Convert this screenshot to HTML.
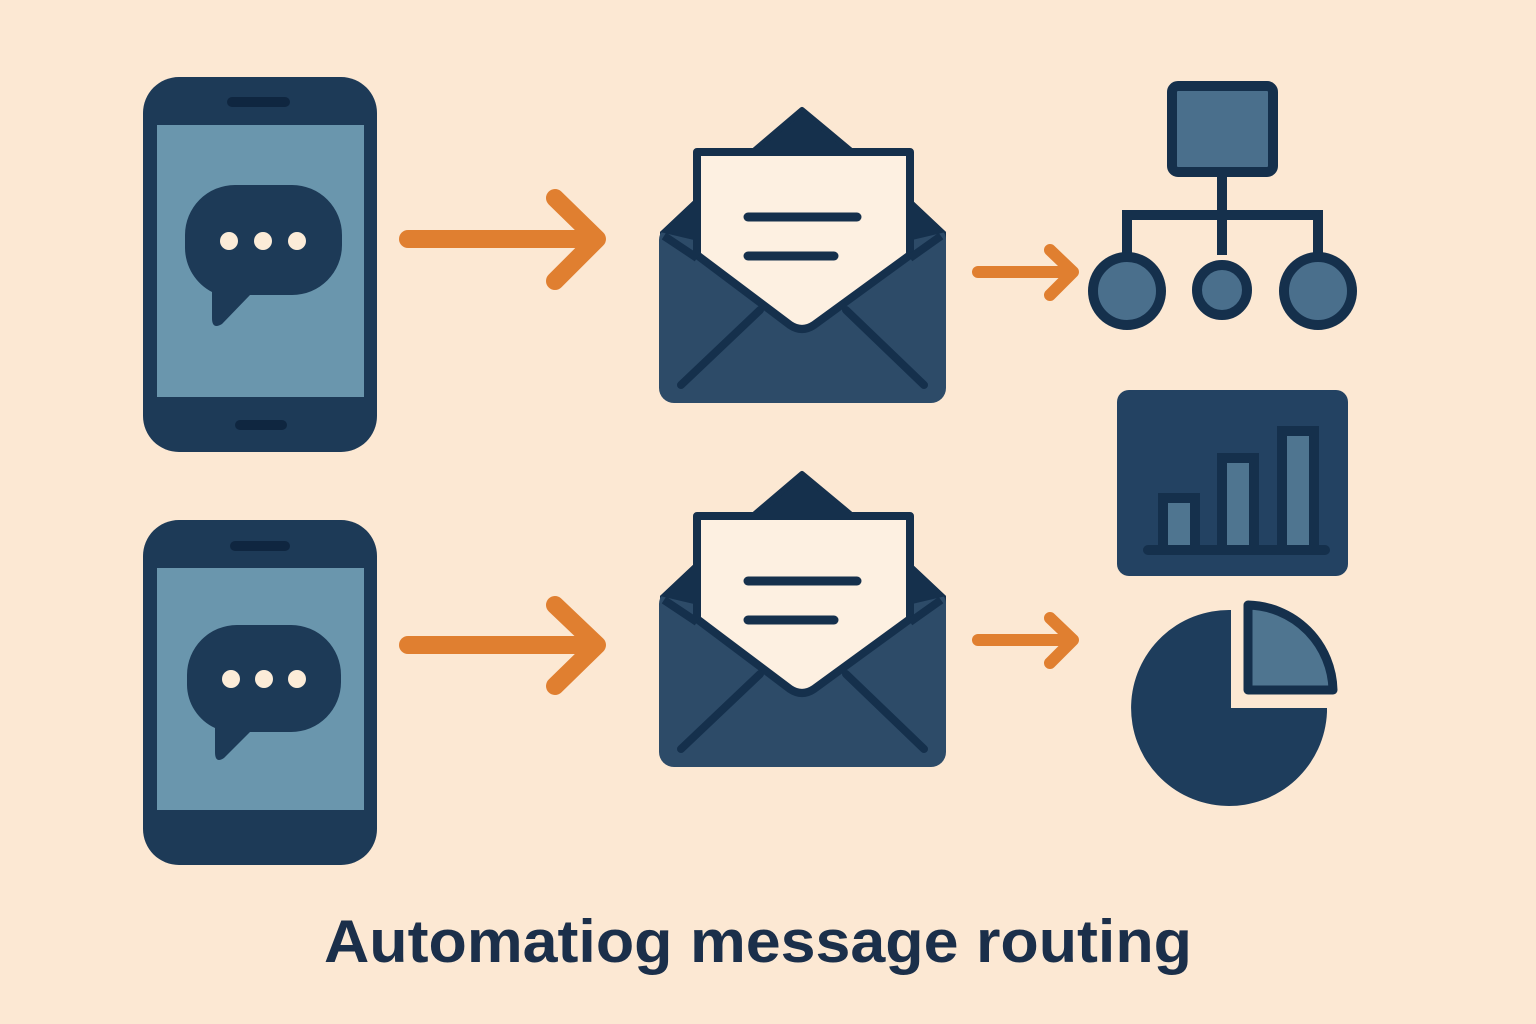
<!DOCTYPE html>
<html><head><meta charset="utf-8"><style>html,body{margin:0;padding:0;background:#fce8d3}svg{display:block}</style></head><body>
<svg width="1536" height="1024" viewBox="0 0 1536 1024" xmlns="http://www.w3.org/2000/svg">
<rect width="1536" height="1024" fill="#fce8d3"/>
<!-- Phone 1 -->
<rect x="143" y="77" width="234" height="375" rx="36" fill="#1d3a57"/>
<rect x="157" y="125" width="207" height="272" fill="#6a96ad"/>
<rect x="227" y="97" width="63" height="10" rx="5" fill="#0f2640"/>
<rect x="235" y="420" width="52" height="10" rx="5" fill="#0f2640"/>
<path d="M235,185 H292 A50,50 0 0 1 342,235 V245 A50,50 0 0 1 292,295 H250 L222,324 Q212,330 212,318 V292 A50,50 0 0 1 185,248 V235 A50,50 0 0 1 235,185 Z" fill="#1d3a57"/>
<circle cx="229" cy="241" r="9" fill="#fcecd8"/><circle cx="263" cy="241" r="9" fill="#fcecd8"/><circle cx="297" cy="241" r="9" fill="#fcecd8"/>
<!-- Phone 2 -->
<rect x="143" y="520" width="234" height="345" rx="36" fill="#1d3a57"/>
<rect x="157" y="568" width="207" height="242" fill="#6a96ad"/>
<rect x="230" y="541" width="60" height="10" rx="5" fill="#0f2640"/>
<path d="M237,625 H291 A50,50 0 0 1 341,675 V682 A50,50 0 0 1 291,732 H250 L224,758 Q215,764 215,752 V728 A48,48 0 0 1 187,685 V675 A50,50 0 0 1 237,625 Z" fill="#1d3a57"/>
<circle cx="231" cy="679" r="9" fill="#fcecd8"/><circle cx="264" cy="679" r="9" fill="#fcecd8"/><circle cx="297" cy="679" r="9" fill="#fcecd8"/>
<!-- Arrows -->
<g stroke="#e07f30" stroke-width="18" stroke-linecap="round" stroke-linejoin="round" fill="none">
<line x1="408" y1="239" x2="596" y2="239"/><polyline points="555,198 597,239 555,281"/>
<line x1="408" y1="645" x2="596" y2="645"/><polyline points="555,605 597,645 555,686"/>
</g>
<g stroke="#e07f30" stroke-width="12" stroke-linecap="round" stroke-linejoin="round" fill="none">
<line x1="978" y1="272" x2="1072" y2="272"/><polyline points="1050,250 1073,272 1050,295"/>
<line x1="978" y1="640" x2="1072" y2="640"/><polyline points="1050,618 1073,640 1050,663"/>
</g>
<!-- Envelopes -->
<g id="env">
<path d="M802,110 L850,150 H755 Z" fill="#15304c" stroke="#15304c" stroke-width="6" stroke-linejoin="round"/>
<path d="M660,232 L694,200 H912 L946,232 V240 H660 Z" fill="#15304c"/>
<rect x="659" y="225" width="287" height="178" rx="15" fill="#2d4b68"/>
<rect x="694" y="150" width="218" height="60" fill="#15304c"/>
<path d="M660,232 L694,200 V240 Z M946,232 L912,200 V240 Z" fill="#15304c"/>
<path d="M697,152 H910 V255 L814,325 Q802,333 790,325 L697,255 Z" fill="#fdf0e1" stroke="#15304c" stroke-width="8" stroke-linejoin="round"/>
<path d="M664,236 L697,258 M941,236 L910,258" stroke="#15304c" stroke-width="8"/>
<line x1="748" y1="217" x2="857" y2="217" stroke="#15304c" stroke-width="9" stroke-linecap="round"/>
<line x1="748" y1="256" x2="834" y2="256" stroke="#15304c" stroke-width="9" stroke-linecap="round"/>
<line x1="681" y1="385" x2="760" y2="310" stroke="#15304c" stroke-width="8" stroke-linecap="round"/>
<line x1="924" y1="385" x2="846" y2="310" stroke="#15304c" stroke-width="8" stroke-linecap="round"/>
</g>
<use href="#env" transform="translate(0,364)"/>
<!-- Network -->
<g stroke="#15304c" stroke-width="10" fill="#4a6f8c">
<rect x="1172" y="86" width="101" height="86" rx="6"/>
<path d="M1222,172 V255 M1127,255 V215 H1318 V255" fill="none"/>
<circle cx="1127" cy="291" r="34"/><circle cx="1222" cy="290" r="25"/><circle cx="1318" cy="291" r="34"/>
</g>
<!-- Bar chart -->
<rect x="1117" y="390" width="231" height="186" rx="12" fill="#234262"/>
<g stroke="#15304c" stroke-width="10" fill="#4f7590">
<rect x="1163" y="498" width="32" height="52"/>
<rect x="1222" y="458" width="32" height="92"/>
<rect x="1282" y="431" width="32" height="119"/>
</g>
<line x1="1148" y1="550" x2="1325" y2="550" stroke="#15304c" stroke-width="10" stroke-linecap="round"/>
<!-- Pie -->
<path d="M1231,708 V610 A98,98 0 1 0 1327,712 V708 Z" fill="#1e3d5c"/>
<path d="M1248,690 V605 A87,87 0 0 1 1333,690 Z" fill="#4f7590" stroke="#15304c" stroke-width="9" stroke-linejoin="round"/>
<!-- Title -->
<text x="758" y="962" text-anchor="middle" font-family="Liberation Sans, sans-serif" font-weight="bold" font-size="60" fill="#1b2f4a" textLength="868" lengthAdjust="spacingAndGlyphs">Automatiog message routing</text>
</svg>
</body></html>
